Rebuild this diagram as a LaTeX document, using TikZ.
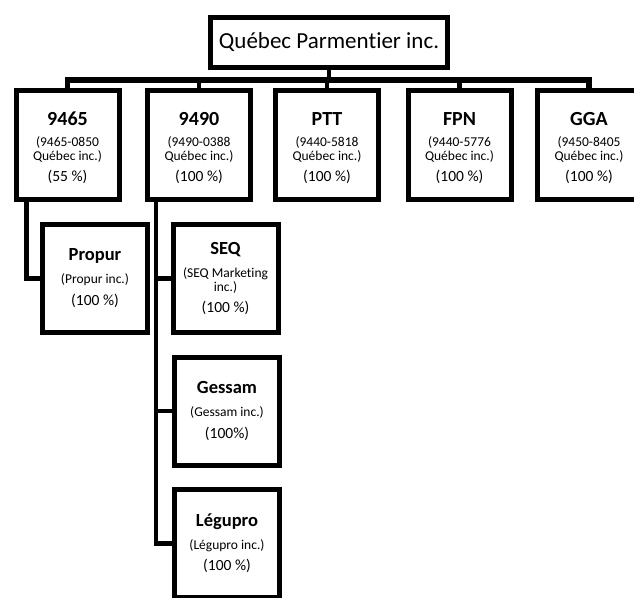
\documentclass[tikz,border=0pt]{standalone}
\usepackage{fontspec}
\setmainfont[Ligatures=NoCommon]{Carlito}
\usetikzlibrary{positioning}

\newcommand{\orgtitle}{\bfseries\fontsize{20}{22}\selectfont\rule{0pt}{19.5pt}}
\newcommand{\subtitle}{\bfseries\fontsize{18.5}{20}\selectfont}
\newcommand{\orgpct}{\fontsize{15.5}{17}\selectfont}

\tikzset{
  orgbox/.style={draw, line width=5pt, fill=white, align=center, inner sep=2pt,
    minimum width=103pt, minimum height=109pt, font=\fontsize{13.5}{14.5}\selectfont},
  subbox/.style={orgbox, minimum width=105pt, minimum height=108pt},
  link/.style={line width=4.5pt},
}

\begin{document}
\begin{tikzpicture}[x=1pt, y=-1pt]
  \clip (0,0) rectangle (634,597);
  \fill[white] (0,0) rectangle (634,597);

  % parent
  \node[draw, line width=5pt, minimum width=237pt, minimum height=50pt,
        font=\fontsize{23}{26}\selectfont] (qp) at (329,42.5) {Québec Parmentier inc.};

  % first row
  \foreach \name/\x/\title/\code/\pct in {a9465/67.5/9465/9465-0850/55,
      a9490/199/9490/9490-0388/100, ptt/327/PTT/9440-5818/100,
      fpn/459.5/FPN/9440-5776/100, gga/589/GGA/9450-8405/100} {
    \node[orgbox] (\name) at (\x,145)
      {{\orgtitle \title}\\[6.5pt] (\code\\Québec inc.)\\[6.5pt] {\orgpct (\pct~\%)}};
  }

  % second row
  \node[subbox] (propur) at (95,278.5)
    {{\subtitle Propur}\\[8.5pt] (Propur inc.)\\[7.5pt] {\orgpct (100~\%)}};
  \node[subbox] (seq) at (225.5,278.5)
    {{\subtitle SEQ}\\[8.5pt] (SEQ Marketing\\inc.)\\[6.5pt] {\orgpct (100~\%)}};
  \node[subbox] (gessam) at (227,411)
    {{\subtitle Gessam}\\[8.5pt] (Gessam inc.)\\[7.5pt] {\orgpct (100\%)}};
  \node[subbox] (legupro) at (227,543.5)
    {{\subtitle Légupro}\\[8.5pt] (Légupro inc.)\\[6.5pt] {\orgpct (100~\%)}};

  % bus
  \coordinate (bus) at (0,80);
  \draw[line width=5.5pt] (a9465.north) |- (gga.north |- bus) -- (gga.north);
  \foreach \name in {a9490,ptt,fpn}
    \draw[link] (\name.north) -- (\name.north |- bus);
  \draw[link] (qp.south) -- (qp.south |- bus);

  % subsidiaries
  \draw[link] ([xshift=13pt]a9465.south west) |- (propur.west);
  \draw[link] ([xshift=11pt]a9490.south west) coordinate (spine) |- (legupro.west);
  \foreach \name in {seq,gessam}
    \draw[link] (\name.west) -- (\name.west -| spine);
\end{tikzpicture}
\end{document}
